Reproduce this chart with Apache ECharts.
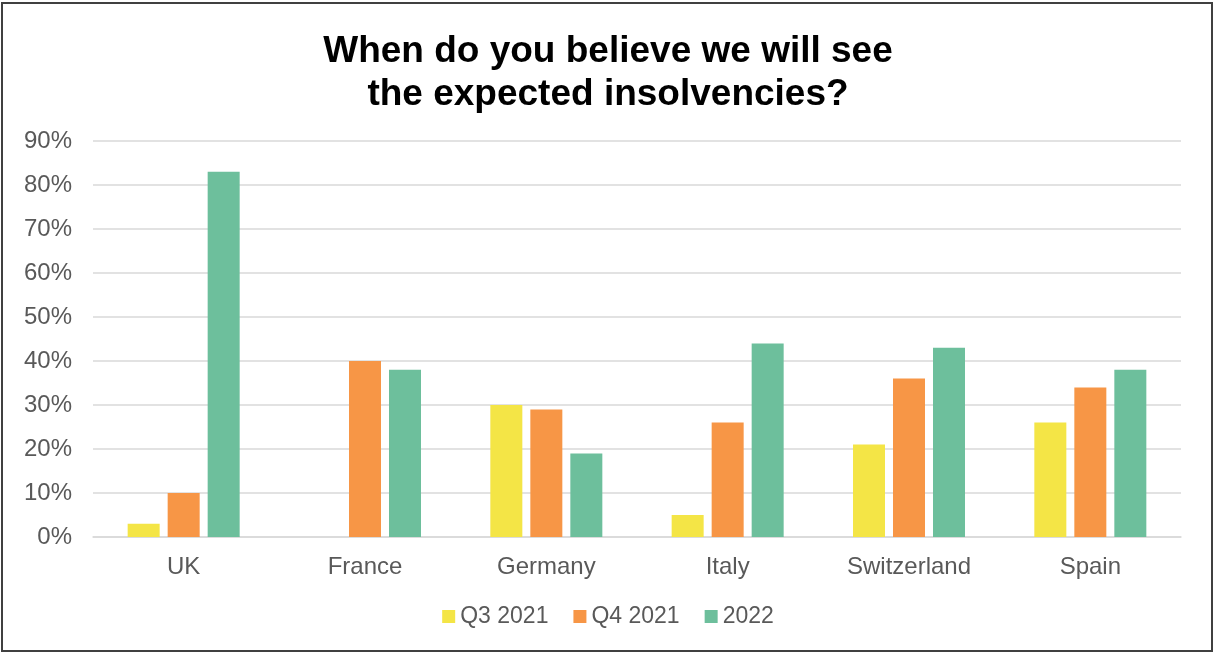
<!DOCTYPE html>
<html>
<head>
<meta charset="utf-8">
<script src="https://cdn.jsdelivr.net/npm/echarts@6/dist/echarts.min.js"></script>
<style>
html,body{margin:0;padding:0;background:#fff;}
#frame{position:absolute;left:1px;top:2px;width:1212px;height:650px;border:2px solid #404040;box-sizing:border-box;}
#chart{position:absolute;left:0;top:0;width:1216px;height:654px;}
</style>
</head>
<body>
<div id="frame"></div>
<div id="chart"></div>
<script>
const categories = ['UK', 'France', 'Germany', 'Italy', 'Switzerland', 'Spain'];
const seriesNames = ['Q3 2021', 'Q4 2021', '2022'];
const q3_2021 = [3, 0, 30, 5, 21, 26];
const q4_2021 = [10, 40, 29, 26, 36, 34];
const y2022 = [83, 38, 19, 44, 43, 38];
const colors = ['#F4E546', '#F79646', '#6DBF9C'];

const chart = echarts.init(document.getElementById('chart'));
const font = 'Liberation Sans, Arial, sans-serif';
const data = [q3_2021, q4_2021, y2022];
chart.setOption({
  animation: false,
  title: {
    text: 'When do you believe we will see\nthe expected insolvencies?',
    left: 'center', top: 25,
    textStyle: { fontFamily: font, fontSize: 37, fontWeight: 'bold', color: '#000', lineHeight: 43 }
  },
  legend: {
    bottom: 21, left: 'center',
    itemWidth: 13, itemHeight: 13, itemGap: 25,
    icon: 'rect',
    textStyle: { fontFamily: font, fontSize: 23, color: '#595959' },
    data: seriesNames
  },
  grid: { left: 93, right: 35, top: 141, bottom: 117, containLabel: false },
  xAxis: {
    type: 'category', data: categories,
    axisLine: { lineStyle: { color: '#d9d9d9', width: 1.5 } },
    axisTick: { show: false },
    axisLabel: { fontFamily: font, fontSize: 24, color: '#595959', margin: 18 }
  },
  yAxis: {
    type: 'value', min: 0, max: 90, interval: 10,
    axisLine: { show: false }, axisTick: { show: false },
    splitLine: { lineStyle: { color: '#d9d9d9', width: 1.5 } },
    axisLabel: { fontFamily: font, fontSize: 24, color: '#595959', margin: 21, formatter: '{value}%' }
  },
  series: seriesNames.map((n, i) => ({
    name: n, type: 'bar', data: data[i], barWidth: 32, barGap: '25%',
    itemStyle: { color: colors[i] }
  }))
});
</script>
</body>
</html>
